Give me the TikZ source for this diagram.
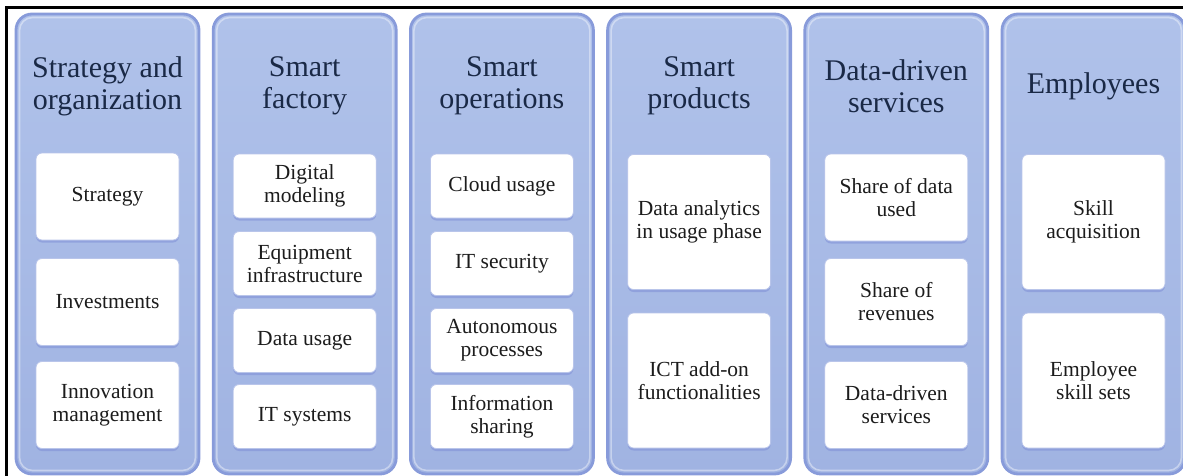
\documentclass[tikz,border=0pt]{standalone}
\usepackage{fontspec}
\setmainfont{Liberation Serif}
\usetikzlibrary{shadows}
\definecolor{colfillTop}{HTML}{B0C2EA}
\definecolor{colfillBot}{HTML}{A0B3E2}
\definecolor{colborder}{HTML}{889BDA}
\definecolor{headtext}{HTML}{1A2946}
\definecolor{boxtext}{HTML}{1C1C1C}
\definecolor{boxedge}{HTML}{B9C5EA}
\definecolor{boxshade}{HTML}{7F8FD6}
\tikzset{
  pillar/.style={draw=colborder, line width=2.8pt, rounded corners=16pt,
    top color=colfillTop, bottom color=colfillBot,
    minimum width=183pt, minimum height=460pt, inner sep=0pt},
  pillarglow/.style={draw=white, draw opacity=0.4, line width=1.6pt, rounded corners=13pt,
    minimum width=176pt, minimum height=453pt, inner sep=0pt},
  heading/.style={text=headtext, align=center, font=\fontsize{30}{32}\selectfont, inner sep=0pt},
  item/.style={fill=white, draw=boxedge, line width=0.8pt, rounded corners=6pt,
    minimum width=143pt, inner sep=0pt, align=center, text=boxtext,
    font=\fontsize{21.5}{23}\selectfont,
    drop shadow={shadow xshift=0pt, shadow yshift=-2.5pt, fill=boxshade, opacity=0.55}},
  itemA/.style={item, minimum height=87pt},
  itemB/.style={item, minimum height=64pt},
  itemC/.style={item, minimum height=135pt},
}
\begin{document}
\begin{tikzpicture}[x=1pt, y=-1pt]
\useasboundingbox (0,0) rectangle (1183,476);
\fill[white] (0,0) rectangle (1183,476);

% frame
\coordinate (fb) at (6.5,476);
\coordinate (ftl) at (6.5,7.5);
\coordinate (fr) at (1183,7.5);
\draw[line width=2.2pt] (fb) -- (ftl) -- (fr);

% pillars
\foreach \i/\x in {1/107.5, 2/304.7, 3/501.9, 4/699.1, 5/896.3, 6/1093.5} {
  \node[pillar] (col\i) at (\x,244) {};
  \node[pillarglow] (glow\i) at (\x,244) {};
}

% headings
\node[heading] (h1) at (107.5,86) {Strategy and\\organization};
\node[heading] (h2) at (304.7,86) {Smart\\factory};
\node[heading] (h3) at (501.9,86) {Smart\\operations};
\node[heading] (h4) at (699.1,86) {Smart\\products};
\node[heading] (h5) at (896.3,86) {Data-driven\\services};
\node[heading] (h6) at (1093.5,86) {Employees};

% Strategy and organization
\node[itemA] (a1) at (107.5,196.5) {Strategy};
\node[itemA] (a2) at (107.5,302) {Investments};
\node[itemA] (a3) at (107.5,405) {Innovation\\management};

% Smart factory
\node[itemB] (b1) at (304.7,186) {Digital\\modeling};
\node[itemB] (b2) at (304.7,263.5) {Equipment\\infrastructure};
\node[itemB] (b3) at (304.7,340.5) {Data usage};
\node[itemB] (b4) at (304.7,416.5) {IT systems};

% Smart operations
\node[itemB] (c1) at (501.9,186) {Cloud usage};
\node[itemB] (c2) at (501.9,263.5) {IT security};
\node[itemB] (c3) at (501.9,340.5) {Autonomous\\processes};
\node[itemB] (c4) at (501.9,416.5) {Information\\sharing};

% Smart products
\node[itemC] (d1) at (699.1,222) {Data analytics\\in usage phase};
\node[itemC] (d2) at (699.1,380.5) {ICT add-on\\functionalities};

% Data-driven services
\node[itemA] (e1) at (896.3,197.5) {Share of data\\used};
\node[itemA] (e2) at (896.3,302) {Share of\\revenues};
\node[itemA] (e3) at (896.3,405) {Data-driven\\services};

% Employees
\node[itemC] (f1) at (1093.5,222) {Skill\\acquisition};
\node[itemC] (f2) at (1093.5,380.5) {Employee\\skill sets};
\end{tikzpicture}
\end{document}
